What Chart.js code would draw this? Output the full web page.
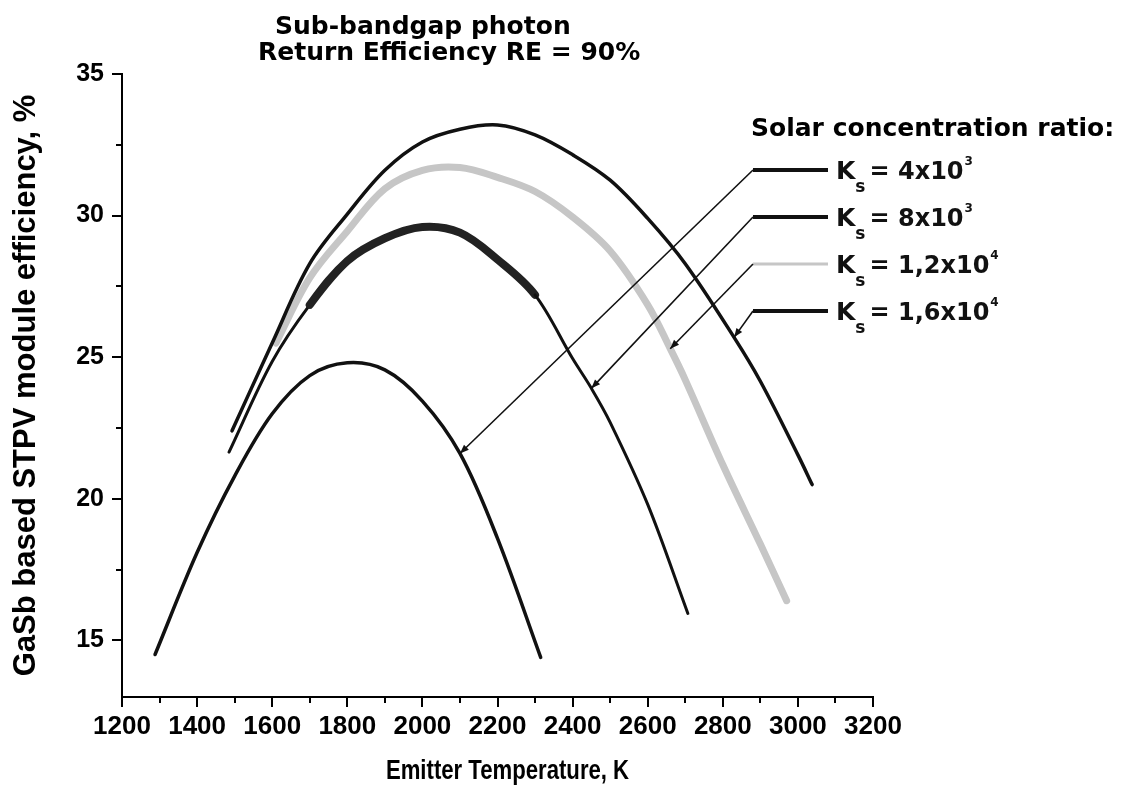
<!DOCTYPE html>
<html>
<head>
<meta charset="utf-8">
<script src="https://cdn.jsdelivr.net/npm/chart.js@4.4.1/dist/chart.umd.min.js"></script>
<style>
  html, body { margin: 0; padding: 0; background: #fff; }
  #wrap { width: 1123px; height: 804px; }
</style>
</head>
<body>
<div id="wrap"><canvas id="stpvChart" width="1123" height="804"></canvas></div>
<script>
// axis ticks
const xTicks = [1200, 1400, 1600, 1800, 2000, 2200, 2400, 2600, 2800, 3000, 3200];
const xMinorTicks = [1300, 1500, 1700, 1900, 2100, 2300, 2500, 2700, 2900, 3100];
const yTicks = [15, 20, 25, 30, 35];
const yMinorTicks = [17.5, 22.5, 27.5, 32.5];

// Ks = 4x10^3
const tempKs4e3 = [1288, 1400, 1500, 1600, 1700, 1800, 1900, 2000, 2100, 2200, 2315];
const effKs4e3 = [14.5, 18.1, 20.8, 23.0, 24.35, 24.8, 24.55, 23.45, 21.6, 18.6, 14.4];

// Ks = 8x10^3
const tempKs8e3 = [1485, 1600, 1700, 1800, 1900, 2000, 2100, 2200, 2300, 2400, 2450, 2500, 2600, 2707];
const effKs8e3 = [21.65, 24.85, 26.85, 28.4, 29.2, 29.6, 29.4, 28.45, 27.2, 24.95, 23.9, 22.7, 19.8, 15.95];

// Ks = 1,2x10^4
const tempKs12e3 = [1610, 1700, 1800, 1900, 2000, 2100, 2200, 2300, 2400, 2500, 2600, 2660, 2700, 2800, 2900, 2970];
const effKs12e3 = [25.5, 27.8, 29.45, 30.95, 31.6, 31.7, 31.35, 30.85, 29.95, 28.75, 26.85, 25.3, 24.2, 21.2, 18.4, 16.4];

// Ks = 1,6x10^4
const tempKs16e3 = [1493, 1600, 1700, 1800, 1900, 2000, 2100, 2200, 2300, 2400, 2500, 2600, 2700, 2830, 2900, 3000, 3038];
const effKs16e3 = [22.4, 25.5, 28.3, 30.05, 31.6, 32.6, 33.05, 33.2, 32.85, 32.15, 31.25, 29.9, 28.3, 25.7, 24.15, 21.55, 20.5];

const ksMantissa = ["4x10", "8x10", "1,2x10", "1,6x10"];
const ksExponent = ["3", "3", "4", "4"];
// temperature on each curve where the leader arrow lands
const arrowAtTemp = [2100, 2450, 2660, 2830];

const titleLines = ["Sub-bandgap photon", "Return Efficiency RE = 90%"];
const legendTitle = "Solar concentration ratio:";
const xTitle = "Emitter Temperature, K";

const BLACK = "#111111";
const GREY = "#c6c6c6";
const BOLD_WIDE = '"DejaVu Sans", "Liberation Sans", Arial, sans-serif';
const BOLD_ARIAL = '"Liberation Sans", Arial, sans-serif';

function toPoints(xs, ys) {
    return xs.map((x, i) => ({ x: x, y: ys[i] }));
}

const seriesTemps = [tempKs4e3, tempKs8e3, tempKs12e3, tempKs16e3];

const stpvAnnotations = {
    id: "stpvAnnotations",
    afterDraw(chart) {
        const { ctx, chartArea, scales } = chart;
        const xs = scales.x;
        const ys = scales.y;
        ctx.save();

        // minor ticks
        ctx.strokeStyle = "#000";
        ctx.lineWidth = 2;
        ctx.beginPath();
        xMinorTicks.forEach((v) => {
            const px = Math.round(xs.getPixelForValue(v));
            ctx.moveTo(px, chartArea.bottom);
            ctx.lineTo(px, chartArea.bottom + 6);
        });
        yMinorTicks.forEach((v) => {
            const py = Math.round(ys.getPixelForValue(v));
            ctx.moveTo(chartArea.left, py);
            ctx.lineTo(chartArea.left - 6, py);
        });
        ctx.stroke();

        // title
        ctx.fillStyle = "#000";
        ctx.textAlign = "left";
        ctx.textBaseline = "alphabetic";
        ctx.font = "bold 25px " + BOLD_WIDE;
        ctx.fillText(titleLines[0], 275, 34);
        ctx.fillText(titleLines[1], 258, 60);

        // x axis title, condensed face
        ctx.save();
        ctx.font = "bold 27px " + BOLD_ARIAL;
        ctx.textAlign = "center";
        ctx.translate((chartArea.left + chartArea.right) / 2 + 10, 779);
        ctx.scale(0.82, 1);
        ctx.fillText(xTitle, 0, 0);
        ctx.restore();

        // legend block
        const lx0 = chartArea.right - 120;
        const lx1 = lx0 + 75;
        ctx.font = "bold 25px " + BOLD_WIDE;
        ctx.fillText(legendTitle, lx0 - 2, chartArea.top + 62);

        ksMantissa.forEach((m, i) => {
            const rowY = chartArea.top + 96 + i * 47;
            const meta = chart.getDatasetMeta(i);
            const k = seriesTemps[i].indexOf(arrowAtTemp[i]);
            const el = meta.data[k];

            // sample line
            ctx.strokeStyle = i === 2 ? GREY : BLACK;
            ctx.lineWidth = i === 2 ? 3 : 4;
            ctx.beginPath();
            ctx.moveTo(lx0, rowY);
            ctx.lineTo(lx1, rowY);
            ctx.stroke();

            // leader with arrow head
            ctx.strokeStyle = BLACK;
            ctx.lineWidth = 1.6;
            ctx.beginPath();
            ctx.moveTo(lx0, rowY);
            ctx.lineTo(el.x, el.y);
            ctx.stroke();
            const ang = Math.atan2(el.y - rowY, el.x - lx0);
            ctx.fillStyle = BLACK;
            ctx.beginPath();
            ctx.moveTo(el.x, el.y);
            ctx.lineTo(el.x - 9 * Math.cos(ang) + 3.5 * Math.sin(ang), el.y - 9 * Math.sin(ang) - 3.5 * Math.cos(ang));
            ctx.lineTo(el.x - 9 * Math.cos(ang) - 3.5 * Math.sin(ang), el.y - 9 * Math.sin(ang) + 3.5 * Math.cos(ang));
            ctx.closePath();
            ctx.fill();

            // K_s = m x 10^e
            let tx = lx1 + 8;
            const base = rowY + 9;
            ctx.font = "bold 25px " + BOLD_WIDE;
            ctx.fillText("K", tx, base);
            tx += ctx.measureText("K").width;
            ctx.font = "bold 17px " + BOLD_WIDE;
            ctx.fillText("s", tx, base + 13);
            tx += ctx.measureText("s").width + 4;
            ctx.font = "bold 24px " + BOLD_WIDE;
            const body = "= " + m;
            ctx.fillText(body, tx, base);
            tx += ctx.measureText(body).width + 1;
            ctx.font = "bold 12px " + BOLD_WIDE;
            ctx.fillText(ksExponent[i], tx, base - 14);
        });

        ctx.restore();
    }
};

const ctx = document.getElementById("stpvChart").getContext("2d");

new Chart(ctx, {
    type: "scatter",
    data: {
        datasets: [
            {
                label: "Ks = 4x10^3",
                data: toPoints(tempKs4e3, effKs4e3),
                borderColor: BLACK,
                borderWidth: 3.5,
                order: 1,
            },
            {
                label: "Ks = 8x10^3",
                data: toPoints(tempKs8e3, effKs8e3),
                borderColor: BLACK,
                borderWidth: 3,
                order: 2,
                segment: {
                    borderWidth: (c) => (c.p0.parsed.x >= 1700 && c.p1.parsed.x <= 2300 ? 8 : 3),
                    borderColor: (c) => (c.p0.parsed.x >= 1700 && c.p1.parsed.x <= 2300 ? "#222" : BLACK),
                },
            },
            {
                label: "Ks = 1,2x10^4",
                data: toPoints(tempKs12e3, effKs12e3),
                borderColor: GREY,
                borderWidth: 7,
                order: 5,
            },
            {
                label: "Ks = 1,6x10^4",
                data: toPoints(tempKs16e3, effKs16e3),
                borderColor: BLACK,
                borderWidth: 3.5,
                order: 3,
            },
        ],
    },
    options: {
        responsive: false,
        animation: false,
        showLine: true,
        elements: {
            point: { radius: 0, hoverRadius: 0 },
            line: { tension: 0.35, fill: false, borderCapStyle: "round", borderJoinStyle: "round" },
        },
        layout: {
            padding: { top: 74, right: 250, bottom: 0, left: 0 },
        },
        plugins: {
            legend: { display: false },
            tooltip: { enabled: false },
        },
        scales: {
            x: {
                type: "linear",
                min: 1200,
                max: 3200,
                afterBuildTicks: (s) => { s.ticks = xTicks.map((v) => ({ value: v })); },
                afterFit: (s) => { s.height = 107; },
                border: { display: true, color: "#000", width: 2 },
                grid: { drawOnChartArea: false, drawTicks: true, tickLength: 10, color: "#000", lineWidth: 2 },
                ticks: {
                    color: "#000",
                    padding: 4,
                    maxRotation: 0,
                    autoSkip: false,
                    callback: (v) => String(v),
                    font: { family: BOLD_ARIAL, size: 26, weight: "bold" },
                },
                title: { display: false },
            },
            y: {
                type: "linear",
                min: 13,
                max: 35,
                afterBuildTicks: (s) => { s.ticks = yTicks.map((v) => ({ value: v })); },
                afterFit: (s) => { s.width = 122; },
                border: { display: true, color: "#000", width: 2 },
                grid: { drawOnChartArea: false, drawTicks: true, tickLength: 10, color: "#000", lineWidth: 2 },
                ticks: {
                    color: "#000",
                    padding: 8,
                    font: { family: BOLD_ARIAL, size: 25, weight: "bold" },
                },
                title: {
                    display: true,
                    text: "GaSb based STPV module efficiency, %",
                    color: "#000",
                    font: { family: BOLD_ARIAL, size: 31, weight: "bold" },
                    padding: { top: 8, bottom: 0 },
                },
            },
        },
    },
    plugins: [stpvAnnotations],
});
</script>
</body>
</html>
